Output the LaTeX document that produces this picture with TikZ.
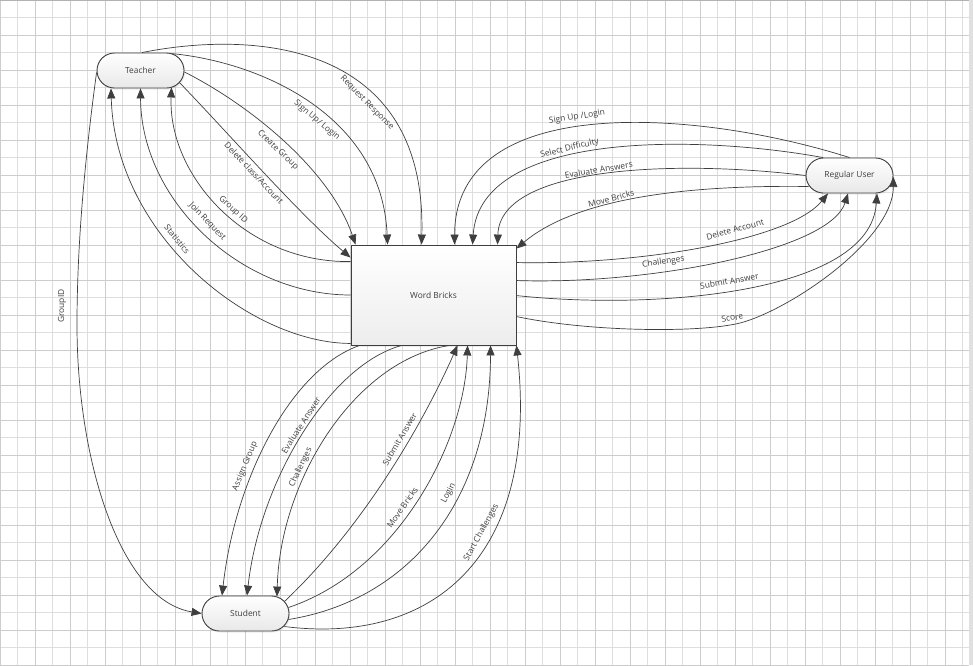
\documentclass[tikz,border=0pt]{standalone}
\usepackage{fontspec}
\setmainfont{Open Sans}
\usetikzlibrary{arrows.meta,calc,shadows}

\definecolor{ink}{HTML}{3F3F3F}
\definecolor{gridA}{HTML}{CDCDCD}
\definecolor{gridB}{HTML}{DEDEDE}

\begin{document}
\begin{tikzpicture}[x=1pt,y=-1pt,
  every node/.style={font=\fontsize{8.4}{10}\selectfont, text=ink},
  term/.style={draw=ink, line width=0.9pt, rounded corners=17.5pt,
    minimum width=87pt, minimum height=35pt, inner sep=0pt,
    top color=white, bottom color=black!9,
    drop shadow={opacity=0.15, shadow xshift=1.2pt, shadow yshift=-1.5pt}},
  procbox/.style={draw=ink, line width=0.9pt, minimum width=165pt,
    minimum height=100pt, inner sep=0pt,
    top color=white, bottom color=black!7,
    drop shadow={opacity=0.15, shadow xshift=1.2pt, shadow yshift=-1.5pt}},
  flow/.style={draw=ink, line width=0.7pt, -{Triangle[length=10pt,width=8pt]}},
  lbl/.style={inner sep=0pt, sloped}
]
\useasboundingbox (0,0) rectangle (973,665);

% sheet with grid
\fill[white] (0,0) rectangle (973,665);
\foreach \i in {1,3,...,55} \draw[gridB, line width=0.9pt] (\i*17.5,0) -- (\i*17.5,665);
\foreach \i in {1,3,...,37} \draw[gridB, line width=0.9pt] (0,\i*17.5) -- (969,\i*17.5);
\foreach \i in {0,2,...,54} \draw[gridA, line width=0.9pt] (\i*17.5,0) -- (\i*17.5,665);
\foreach \i in {2,4,...,38} \draw[gridA, line width=0.9pt] (0,\i*17.5) -- (969,\i*17.5);
\draw[black!30, line width=1pt] (0,0.5) -- (969,0.5);
\fill[black!12] (969,0) rectangle (973,665);

% entities and process
\node[term] (teacher) at (140.5,70.5) {Teacher};
\node[procbox] (wb) at (433.5,295) {Word Bricks};
\node[term] (ru) at (849.5,175.5) {Regular User};
\node[term] (student) at (245.5,613.5) {Student};

% teacher flows
\draw[flow] ($(teacher.north)+(1.5,0)$) .. controls (255,30) and (427,42) .. ($(wb.north west)+(71,0)$)
  node[lbl, pos=0.655, below=5pt] (l1) {Request Response};
\draw[flow] ($(teacher.north)+(31,1)$) .. controls (260,62) and (382,115) .. ($(wb.north west)+(37,0)$)
  node[lbl, pos=0.55, below=5pt] (l2) {Sign Up/ Login};
\draw[flow] ($(teacher.east)+(0,1.5)$) .. controls (250,105) and (330,170) .. ($(wb.north west)+(5,0)$)
  node[lbl, pos=0.5, below=6pt] (l3) {Create Group};
\draw[flow] ($(teacher.east)+(-5,12)$) .. controls (230,135) and (300,215) .. ($(wb.north west)+(0,13)$)
  node[lbl, pos=0.47, below=4pt] (l4) {Delete class/Account};
\draw[flow] ($(wb.north west)+(0,17)$) .. controls (245,263) and (168,175) .. ($(teacher.south)+(31,-1)$)
  node[lbl, pos=0.46, above=3pt] (l5) {Group ID};
\draw[flow] (wb.west) .. controls (240,295) and (141,200) .. (teacher.south)
  node[lbl, pos=0.52, above=6pt] (l6) {Join Request};
\draw[flow] ($(wb.south west)+(0,-2)$) .. controls (250,343) and (115,235) .. ($(teacher.south)+(-29.5,0)$)
  node[lbl, pos=0.59, above=5pt] (l7) {Statistics};
\draw[flow] ($(teacher.west)+(0,2)$) .. controls (82,180) and (77,260) .. (77,325)
  .. controls (77,460) and (120,600) .. (student.west);
\node[inner sep=0pt, rotate=90] (l8) at (62,306) {GroupID};

% regular user flows
\draw[flow] (ru.north) .. controls (700,110) and (455,90) .. ($(wb.north west)+(104,0)$)
  node[lbl, pos=0.537, above=6pt] (r1) {Sign Up /Login};
\draw[flow] ($(ru.north)+(-26.5,0)$) .. controls (700,135) and (480,130) .. ($(wb.north west)+(122,0)$)
  node[lbl, pos=0.58, above=3pt] (r2) {Select Difficulty};
\draw[flow] (ru.west) .. controls (680,160) and (500,165) .. ($(wb.north west)+(147,0)$)
  node[lbl, pos=0.516, above=2pt] (r3) {Evaluate Answers};
\draw[flow] ($(ru.west)+(3,11)$) .. controls (700,185) and (580,195) .. ($(wb.north east)+(0,4)$)
  node[lbl, pos=0.61, above=2pt] (r4) {Move Bricks};
\draw[flow] ($(wb.north east)+(0,18)$) .. controls (640,265) and (790,240) .. ($(ru.south)+(-21.5,0)$)
  node[lbl, pos=0.6, above=6pt] (r5) {Delete Account};
\draw[flow] ($(wb.north east)+(0,36)$) .. controls (650,285) and (830,250) .. ($(ru.south)+(-1.5,0)$)
  node[lbl, pos=0.35, above=5pt] (r6) {Challenges};
\draw[flow] ($(wb.north east)+(0,51)$) .. controls (650,310) and (870,295) .. ($(ru.south)+(27.5,0)$)
  node[lbl, pos=0.47, above=6pt] (r7) {Submit Answer};
\draw[flow] ($(wb.north east)+(0,72)$) .. controls (590,332) and (700,333) .. (740,323)
  node[lbl, pos=0.95, above=3.5pt] (r8) {Score}
  .. controls (790,310) and (893,240) .. ($(ru.east)+(0,1.5)$);

% student flows
\draw[flow] ($(wb.south west)+(9,0)$) .. controls (290,370) and (235,480) .. ($(student.north)+(-23.5,0)$)
  node[lbl, pos=0.617, above=5pt] (s1) {Assign Group};
\draw[flow] ($(wb.south west)+(51,0)$) .. controls (330,365) and (260,480) .. ($(student.north)+(1.5,0)$)
  node[lbl, pos=0.478, above=2.5pt] (s2) {Evaluate Answer};
\draw[flow] ($(wb.south west)+(99,0)$) .. controls (355,360) and (280,480) .. ($(student.north)+(31.5,1)$)
  node[lbl, pos=0.628, above=3pt] (s3) {Challenges};
\draw[flow] ($(student.east)+(-5,-12)$) .. controls (360,530) and (420,430) .. ($(wb.south west)+(107,0)$)
  node[lbl, pos=0.63, above=5pt] (s4) {Submit Answer};
\draw[flow] ($(student.east)+(-1,-6)$) .. controls (400,570) and (465,440) .. ($(wb.south west)+(117,0)$)
  node[lbl, pos=0.45, above=5pt] (s5) {Move Bricks};
\draw[flow] ($(student.east)+(-1,6)$) .. controls (410,600) and (490,500) .. ($(wb.south west)+(140,0)$)
  node[lbl, pos=0.617, above=5pt] (s6) {Login};
\draw[flow] ($(student.east)+(-5,13)$) .. controls (430,645) and (540,560) .. (wb.south east)
  node[lbl, pos=0.615, above=5pt] (s7) {Start Challenges};
\end{tikzpicture}
\end{document}
